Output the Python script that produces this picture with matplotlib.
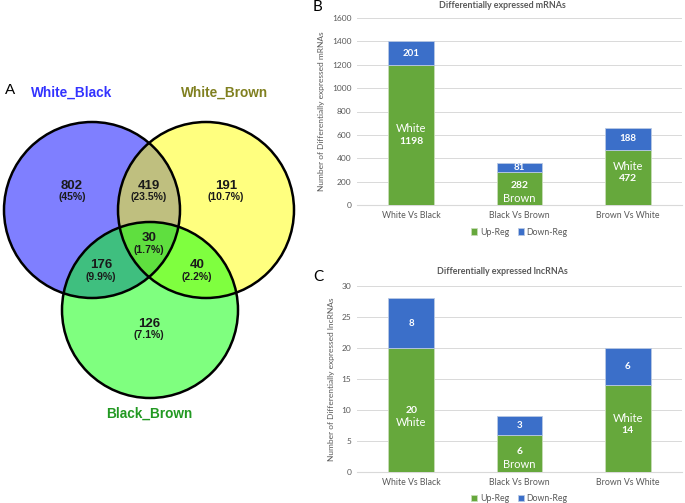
import numpy as np
import matplotlib
matplotlib.use("Agg")
import matplotlib.pyplot as plt
from matplotlib.patches import Circle

# venn data
venn_sets = ["White_Black", "White_Brown", "Black_Brown"]
venn_counts = [802, 191, 126, 419, 176, 40, 30]   # WB only, WBr only, BBr only, WB&WBr, WB&BBr, WBr&BBr, all
venn_pcts = ["45%", "10.7%", "7.1%", "23.5%", "9.9%", "2.2%", "1.7%"]

# bar data
groups = ["White Vs Black", "Black Vs Brown", "Brown Vs White"]
mrna_up = [1198, 282, 472]
mrna_down = [201, 81, 188]
lnc_up = [20, 6, 14]
lnc_down = [8, 3, 6]
up_tags = ["White", "Brown", "White"]

W, H = 685, 503
fig = plt.figure(figsize=(W / 100, H / 100), dpi=100)

# ---- panel A : venn (axes in pixel units)
ax = fig.add_axes([0, 0, 308 / W, 1])
ax.set_xlim(0, 308)
ax.set_ylim(H, 0)
ax.axis("off")

R = 88
centers = [(92, 210), (206, 210), (150, 310)]
fills = ["#0000ff", "#ffff00", "#00ff00"]
for c, f in zip(centers, fills):
    ax.add_patch(Circle(c, R, facecolor=f, alpha=0.5, edgecolor="none"))
for c in centers:
    ax.add_patch(Circle(c, R, facecolor="none", edgecolor="black", lw=1.8))

label_pos = [(72, 186), (226, 186), (149, 324), (149, 186), (101, 265), (197, 265), (149, 238)]
for (x, y), n, p in zip(label_pos, venn_counts, venn_pcts):
    ax.text(x, y, str(n), ha="center", va="center", fontsize=9.5, fontweight="bold",
            family="Liberation Sans", color="#1a1a1a")
    ax.text(x, y + 11.5, "(" + p + ")", ha="center", va="center", fontsize=7.5, fontweight="bold",
            family="Liberation Sans", color="#1a1a1a")

set_pos = [(72, 93), (225, 93), (149, 414)]
set_cols = ["#3333ff", "#808020", "#229922"]
for (x, y), s, col in zip(set_pos, venn_sets, set_cols):
    ax.text(x, y, s, ha="center", va="center", fontsize=9.8, fontweight="bold",
            family="Liberation Sans", color=col)
ax.text(10, 90, "A", ha="center", va="center", fontsize=11, family="Liberation Sans")

# ---- bar panels
GREEN = "#66a83c"
BLUE = "#3b6fc9"
GRID = "#d9d9d9"
TXT = "#595959"


def bar_panel(rect, up, down, ymax, step, title, ylab, frac, letter, let_y, title_y):
    a = fig.add_axes(rect)
    x = np.arange(len(groups))
    a.bar(x, up, 0.42, color=GREEN, edgecolor="#c8dcb8", lw=0.6, label="Up-Reg", zorder=3)
    a.bar(x, down, 0.42, bottom=up, color=BLUE, edgecolor="#b8c8e4", lw=0.6, label="Down-Reg", zorder=3)
    a.set_xlim(-0.5, 2.5)
    a.set_ylim(0, ymax)
    a.set_yticks(np.arange(0, ymax + 1, step))
    a.grid(axis="y", color=GRID, lw=0.7, zorder=0)
    for s in a.spines.values():
        s.set_visible(False)
    a.spines["bottom"].set_visible(True)
    a.spines["bottom"].set_color(GRID)
    a.tick_params(length=0, labelsize=6, colors=TXT, pad=4)
    a.set_xticks(x)
    a.set_xticklabels(groups, fontsize=6.3, color=TXT)
    a.set_ylabel(ylab, fontsize=6, color=TXT, labelpad=5)
    for i in range(len(groups)):
        a.text(i, up[i] + down[i] / 2, str(down[i]), ha="center", va="center",
               color="white", fontsize=7, fontweight="bold")
        yc = up[i] * frac[i]
        d = ymax * 0.033
        num_first = (up_tags[i] == "Brown") or (ymax < 100 and i == 0)
        if num_first:
            a.text(i, yc + d, str(up[i]), ha="center", va="center", color="white", fontsize=7.5, fontweight="bold")
            a.text(i, yc - d, up_tags[i], ha="center", va="center", color="white", fontsize=8)
        else:
            a.text(i, yc + d, up_tags[i], ha="center", va="center", color="white", fontsize=8)
            a.text(i, yc - d, str(up[i]), ha="center", va="center", color="white", fontsize=7.5, fontweight="bold")
    a.legend(loc="center", bbox_to_anchor=(0.5, -0.145), ncol=2, frameon=False, fontsize=6.3,
             handlelength=0.7, handleheight=0.7, handletextpad=0.3, columnspacing=1.0, labelcolor=TXT)
    fig.text(502 / W, 1 - title_y / H, title, ha="center", va="center", fontsize=6.4, fontweight="bold", color=TXT)
    fig.text(318 / W, 1 - let_y / H, letter, ha="center", va="center", fontsize=11)
    return a


plt.rcParams["font.family"] = ["Lato", "DejaVu Sans"]

bar_panel([357 / W, 1 - 205 / H, 325 / W, 187 / H], mrna_up, mrna_down, 1600, 200,
          "Differentially expressed mRNAs", "Number of Differentially expressed mRNAs",
          [0.5, 0.39, 0.59], "B", 7, 6)
bar_panel([357 / W, 1 - 472 / H, 325 / W, 186 / H], lnc_up, lnc_down, 30, 5,
          "Differentially expressed lncRNAs", "Number of Differentially expressed lncRNAs",
          [0.45, 0.375, 0.55], "C", 277, 272)

fig.savefig("out.png", dpi=100)
